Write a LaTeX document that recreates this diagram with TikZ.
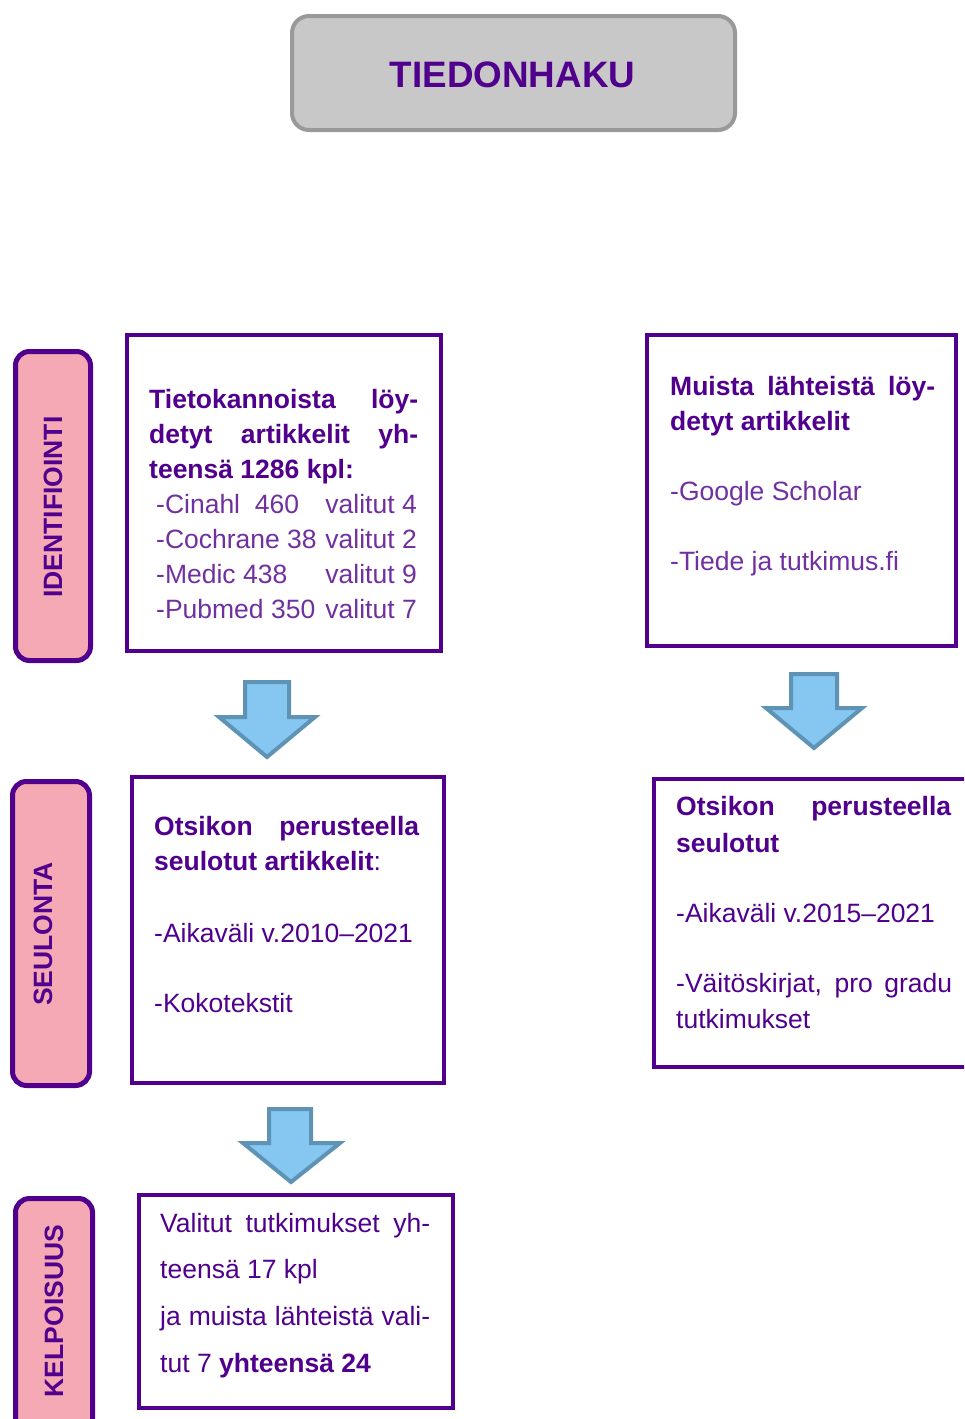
\documentclass[tikz,border=0pt]{standalone}
\usepackage{fontspec}
\setmainfont{Liberation Sans}
\definecolor{dpur}{RGB}{80,0,140}
\definecolor{lpur}{RGB}{112,48,160}
\definecolor{pinkf}{RGB}{245,169,181}
\definecolor{arrf}{RGB}{133,199,240}
\definecolor{arrd}{RGB}{95,147,181}
\definecolor{grayf}{RGB}{200,200,200}
\definecolor{grayd}{RGB}{153,153,153}
\tikzset{
 mainbox/.style={draw=dpur, line width=4.5pt, fill=white, inner sep=0pt},
 sidebox/.style={draw=dpur, line width=5pt, fill=pinkf, rounded corners=14pt, inner sep=0pt},
 sidetxt/.style={rotate=90, text=dpur, font=\fontsize{26.5}{30}\selectfont\bfseries, inner sep=0pt},
 hd/.style={text=dpur, font=\fontsize{26.5}{35}\selectfont\bfseries, inner sep=0pt, anchor=base west},
 li/.style={text=lpur, font=\fontsize{26.5}{35}\selectfont, inner sep=0pt, anchor=base west},
 tx/.style={text=dpur, font=\fontsize{26.5}{35}\selectfont, inner sep=0pt, anchor=base west},
 blockarrow/.style={draw=arrd, fill=arrf, line width=4pt, line join=miter},
}
\begin{document}
\begin{tikzpicture}[x=1pt,y=-1pt]
\useasboundingbox (0,0) rectangle (964,1419);
\fill[white] (0,0) rectangle (964,1419);
\clip (0,0) rectangle (964,1419);

% title
\node[draw=grayd, fill=grayf, line width=4pt, rounded corners=17pt, minimum width=443, minimum height=114, inner sep=0pt] (title) at (513.5,73) {};
\node[anchor=base, text=dpur, font=\fontsize{36.8}{40}\selectfont\bfseries, inner sep=0pt] (ttl) at (512.5,87) {TIEDONHAKU};

% side labels
\node[sidebox, minimum width=75, minimum height=309] (s1) at (53,506) {};
\node[sidebox, minimum width=77, minimum height=304] (s2) at (51,933.5) {};
\node[sidebox, minimum width=77, minimum height=241] (s3) at (54,1319) {};
\node[sidetxt] (s1t) at (53,507) {IDENTIFIOINTI};
\node[sidetxt] (s2t) at (43,934) {SEULONTA};
\node[sidetxt] (s3t) at (54,1311) {KELPOISUUS};

% main boxes
\node[mainbox, minimum width=314, minimum height=316] (b1) at (284,493) {};
\node[mainbox, minimum width=309, minimum height=311] (b2) at (801.5,490.5) {};
\node[mainbox, minimum width=312, minimum height=306] (b3) at (288,930) {};
\node[mainbox, minimum width=321, minimum height=288] (b4) at (814.5,923) {};
\node[mainbox, minimum width=314, minimum height=213] (b5) at (296,1301.5) {};

% box 1 text
\node[hd] (t1a) at (149,408) {\makebox[269pt][s]{Tietokannoista löy-}};
\node[hd] (t1b) at (149,443) {\makebox[269pt][s]{detyt artikkelit yh-}};
\node[hd] (t1c) at (149,478) {teensä 1286 kpl:};
\node[li] (t1d) at (156,513) {-Cinahl\ \ 460};
\node[li, anchor=base east] (t1e) at (417,513) {valitut 4};
\node[li] (t1f) at (156,548) {-Cochrane 38};
\node[li, anchor=base east] (t1g) at (417,548) {valitut 2};
\node[li] (t1h) at (156,583) {-Medic 438};
\node[li, anchor=base east] (t1i) at (417,583) {valitut 9};
\node[li] (t1j) at (156,618) {-Pubmed 350};
\node[li, anchor=base east] (t1k) at (417,618) {valitut 7};

% box 2 text
\node[hd] (t2a) at (670,395) {\makebox[265pt][s]{Muista lähteistä löy-}};
\node[hd] (t2b) at (670,430) {detyt artikkelit};
\node[li] (t2c) at (670,500) {-Google Scholar};
\node[li] (t2d) at (670,570) {-Tiede ja tutkimus.fi};

% box 3 text
\node[hd] (t3a) at (154,835) {\makebox[265pt][s]{Otsikon perusteella}};
\node[hd] (t3b) at (154,870) {seulotut artikkelit{\mdseries :}};
\node[tx] (t3c) at (154,942) {-Aikaväli v.2010–2021};
\node[tx] (t3d) at (154,1012) {-Kokotekstit};

% box 4 text
\node[hd] (t4a) at (676,815) {\makebox[275pt][s]{Otsikon perusteella}};
\node[hd] (t4b) at (676,852) {seulotut};
\node[tx] (t4c) at (676,922) {-Aikaväli v.2015–2021};
\node[tx] (t4d) at (676,992) {\makebox[276pt][s]{-Väitöskirjat, pro gradu}};
\node[tx] (t4e) at (676,1028) {tutkimukset};

% box 5 text
\node[tx] (t5a) at (160,1232) {\makebox[270pt][s]{Valitut tutkimukset yh-}};
\node[tx] (t5b) at (160,1278) {teensä 17 kpl};
\node[tx] (t5c) at (160,1325) {\makebox[270pt][s]{ja muista lähteistä vali-}};
\node[tx] (t5d) at (160,1372) {tut 7 \textbf{yhteensä 24}};

% block arrows
\draw[blockarrow] (245,682) -- (289,682) -- (289,717) -- (315,717) -- (267,757) -- (219,717) -- (245,717) -- cycle;
\draw[blockarrow] (791,674) -- (837,674) -- (837,708) -- (862,708) -- (814,748) -- (766,708) -- (791,708) -- cycle;
\draw[blockarrow] (269,1109) -- (311,1109) -- (311,1143) -- (340,1143) -- (291,1182) -- (243,1143) -- (269,1143) -- cycle;
\end{tikzpicture}
\end{document}
